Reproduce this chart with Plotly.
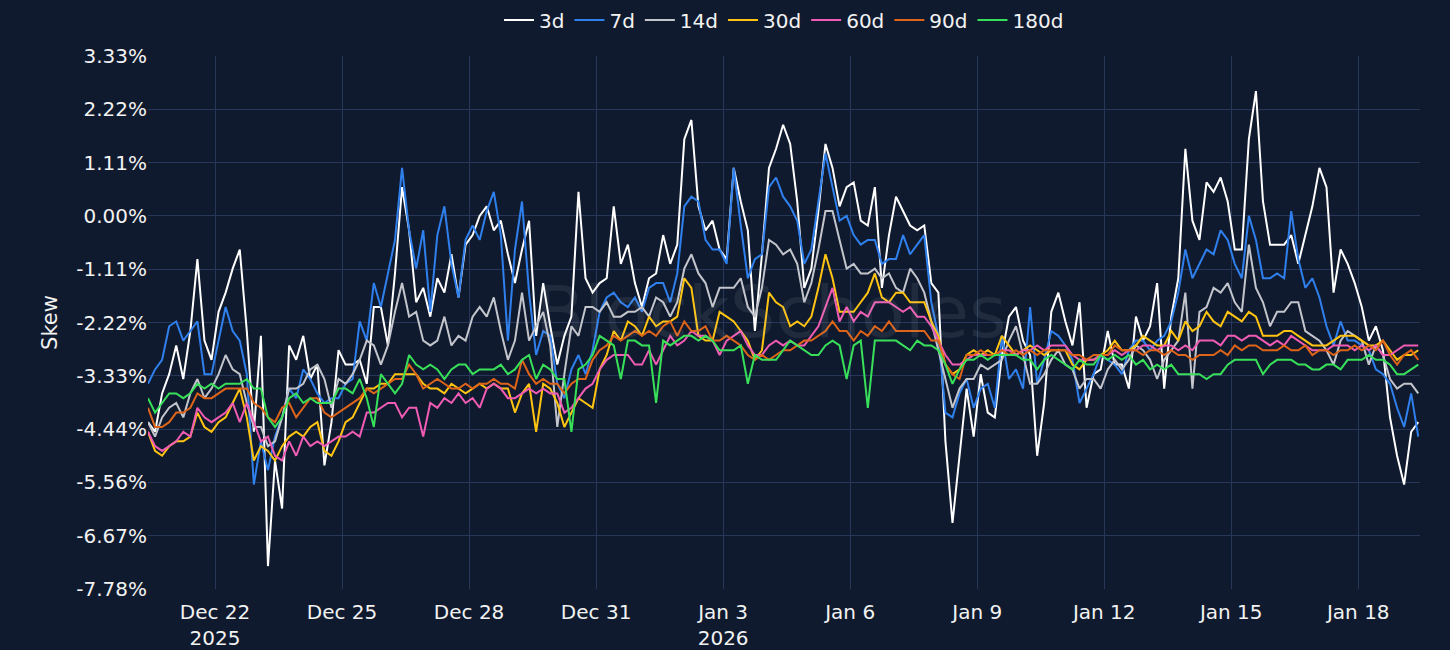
import pandas as pd
import plotly.graph_objects as go

# 4-hourly skew readings (%), Dec 20 10:00 -> Jan 19 10:00
timestamps = pd.date_range("2025-12-20 10:00", periods=181, freq="4h")

skew_3d = [
    -4.3, -4.5, -3.7, -3.3, -2.7, -3.4, -2.4, -0.9, -2.6, -3.0, -2.0, -1.6, -1.1, -0.7, -2.4, -4.5, -2.5, -7.3, -5.1, -6.1, -2.7, -3.0, -2.5, -3.4, -3.1, -5.2,
    -4.3, -2.8, -3.1, -3.1, -3.0, -3.5, -1.9, -1.9, -2.7, -1.2, 0.6, -0.3, -1.8, -1.5, -2.1, -1.3, -1.6, -0.8, -1.7, -0.6, -0.4, 0.0, 0.2, -0.3,
    -0.1, -0.8, -1.4, -0.7, -0.1, -2.5, -1.4, -2.3, -3.1, -2.5, -2.1, 0.5, -1.3, -1.6, -1.4, -1.3, 0.2, -1.0, -0.6, -1.4, -1.9, -1.3, -1.2, -0.4,
    -1.0, -0.6, 1.6, 2.0, 0.2, -0.3, -0.1, -0.7, -0.9, 1.0, 0.3, -0.3, -2.4, -0.8, 1.0, 1.4, 1.9, 1.5, 0.3, -1.5, -1.1, 0.1, 1.5, 1.0, 0.2,
    0.6, 0.7, -0.1, -0.2, 0.6, -1.5, -0.4, 0.4, 0.1, -0.2, -0.3, -0.2, -1.4, -1.6, -4.7, -6.4, -5.0, -3.6, -4.6, -3.3, -4.1, -4.2, -2.9, -2.1,
    -1.9, -2.6, -2.9, -5.0, -3.9, -2.0, -1.6, -2.2, -2.7, -1.8, -4.0, -3.3, -3.2, -2.4, -3.1, -3.1, -3.6, -2.1, -2.6, -2.3, -1.4, -3.6, -2.1, -1.3,
    1.4, -0.1, -0.5, 0.7, 0.5, 0.8, 0.3, -0.7, -0.7, 1.6, 2.6, 0.3, -0.6, -0.6, -0.6, -0.4, -1.0, -0.4, 0.2, 1.0, 0.6, -1.6, -0.7, -1.0,
    -1.4, -1.9, -2.6, -2.3, -2.8, -4.2, -5.0, -5.6, -4.5, -4.3,
]
skew_7d = [
    -3.5, -3.2, -3.0, -2.3, -2.2, -2.6, -2.4, -2.2, -3.3, -3.3, -2.6, -1.9, -2.4, -2.6, -3.3, -5.6, -4.7, -5.3, -4.6, -4.2, -3.6, -3.8, -3.2, -3.4, -3.7, -3.9,
    -3.8, -3.8, -3.5, -3.4, -2.2, -2.6, -1.4, -1.9, -1.2, -0.5, 1.0, -0.3, -1.1, -0.3, -2.0, -0.4, 0.2, -1.0, -1.7, -0.5, -0.2, -0.5, 0.1, 0.5,
    -0.4, -2.6, -0.7, 0.3, -1.6, -2.9, -2.4, -2.5, -3.5, -3.8, -3.2, -2.9, -3.3, -2.8, -2.0, -1.7, -1.6, -1.8, -1.9, -1.7, -2.0, -1.5, -1.4, -1.4,
    -1.8, -1.2, 0.2, 0.4, 0.3, -0.5, -0.7, -0.7, -1.0, 1.0, -0.2, -1.3, -0.9, -0.8, 0.6, 0.8, 0.4, 0.2, -0.1, -1.0, -0.7, 0.3, 1.3, 0.6, -0.1,
    0.0, -0.4, -0.6, -0.5, -0.5, -1.0, -0.9, -0.9, -0.4, -0.8, -0.6, -0.4, -1.8, -2.5, -4.1, -4.2, -3.7, -3.4, -4.0, -3.6, -3.5, -4.0, -2.5, -3.4,
    -3.2, -3.6, -1.9, -3.5, -3.0, -2.4, -2.5, -2.7, -3.0, -3.9, -3.6, -3.3, -2.9, -3.0, -3.1, -3.3, -2.8, -2.6, -2.6, -2.8, -2.6, -2.5, -2.2, -1.6,
    -0.7, -1.3, -1.0, -0.7, -0.8, -0.3, -0.5, -1.0, -1.3, 0.0, -0.5, -1.3, -1.3, -1.2, -1.3, 0.1, -0.9, -1.5, -1.3, -1.7, -2.3, -2.7, -2.2, -2.6,
    -2.6, -2.7, -2.8, -3.2, -3.3, -3.5, -4.0, -4.4, -3.7, -4.6,
]
skew_14d = [
    -4.3, -4.6, -4.2, -4.0, -3.9, -4.2, -3.7, -3.4, -3.8, -3.6, -3.3, -2.9, -3.2, -3.3, -3.9, -4.4, -4.4, -4.8, -4.7, -4.2, -3.6, -3.6, -3.5, -3.2, -3.1, -3.4,
    -4.0, -3.4, -3.5, -3.3, -3.0, -2.6, -2.7, -3.1, -2.7, -2.0, -1.4, -2.1, -2.0, -2.6, -2.7, -2.6, -2.1, -2.7, -2.5, -2.6, -2.1, -1.9, -2.1, -1.7,
    -2.4, -3.0, -2.6, -1.6, -2.6, -2.3, -2.0, -2.7, -4.4, -3.3, -2.3, -2.5, -1.9, -1.9, -2.0, -1.8, -2.1, -2.1, -2.0, -2.0, -1.9, -2.1, -1.7, -1.8,
    -2.1, -1.8, -1.1, -0.8, -1.2, -1.4, -1.9, -1.5, -1.5, -1.5, -1.3, -1.9, -2.1, -1.5, -0.5, -0.6, -0.8, -0.7, -1.0, -1.8, -1.4, -0.7, 0.1, 0.1, -0.5,
    -1.1, -1.0, -1.2, -1.2, -1.1, -1.3, -1.2, -1.5, -1.6, -1.1, -1.3, -1.6, -2.2, -2.8, -3.4, -4.0, -3.6, -3.4, -3.4, -3.1, -3.2, -3.1, -3.0, -2.6,
    -2.3, -2.9, -3.5, -3.5, -3.3, -3.0, -2.8, -3.1, -3.2, -3.6, -3.4, -3.4, -3.6, -3.2, -3.0, -3.2, -3.0, -2.7, -2.8, -3.0, -3.4, -3.0, -2.8, -2.6,
    -1.6, -3.6, -2.0, -1.9, -1.5, -1.6, -1.4, -1.8, -2.0, -0.6, -1.5, -1.8, -2.3, -2.0, -2.0, -1.8, -1.8, -2.4, -2.5, -2.6, -2.8, -3.1, -2.6, -2.4,
    -2.5, -2.6, -3.1, -2.7, -2.9, -3.4, -3.6, -3.5, -3.5, -3.7,
]
skew_30d = [
    -4.5, -4.9, -5.0, -4.8, -4.7, -4.7, -4.6, -4.1, -4.4, -4.5, -4.3, -4.2, -3.9, -3.6, -4.2, -5.1, -4.8, -4.9, -5.1, -4.8, -4.6, -4.5, -4.6, -4.4, -4.3, -4.9,
    -5.0, -4.7, -4.3, -4.2, -3.9, -3.6, -3.6, -3.5, -3.5, -3.3, -3.3, -3.3, -3.3, -3.5, -3.6, -3.6, -3.7, -3.5, -3.6, -3.7, -3.6, -3.5, -3.6, -3.5,
    -3.6, -3.6, -4.1, -3.7, -3.5, -4.5, -3.5, -3.6, -3.9, -4.4, -4.1, -3.8, -3.9, -4.0, -3.2, -2.9, -2.4, -2.6, -2.2, -2.3, -2.5, -2.1, -2.3, -2.2,
    -2.2, -2.1, -1.3, -1.5, -2.5, -2.6, -2.6, -2.0, -2.1, -2.2, -2.4, -2.6, -3.0, -2.8, -1.6, -1.8, -1.9, -2.3, -2.2, -2.3, -2.1, -1.5, -0.8, -1.3, -2.0,
    -2.0, -2.0, -1.8, -1.6, -1.2, -1.7, -1.8, -1.6, -1.6, -1.8, -1.8, -1.8, -2.2, -2.5, -3.1, -3.3, -3.2, -2.9, -2.8, -2.9, -2.8, -2.9, -2.5, -2.7,
    -2.9, -2.8, -2.7, -2.8, -2.9, -2.8, -2.8, -2.8, -3.1, -3.2, -3.0, -3.0, -2.9, -2.8, -2.6, -2.8, -2.8, -2.7, -2.5, -2.6, -2.7, -2.7, -2.4, -2.6,
    -2.2, -2.4, -2.3, -2.0, -2.2, -2.3, -2.0, -2.1, -2.2, -2.0, -2.1, -2.5, -2.5, -2.5, -2.4, -2.4, -2.5, -2.6, -2.7, -2.7, -2.7, -2.6, -2.5, -2.5,
    -2.5, -2.6, -2.7, -2.7, -2.6, -2.8, -3.0, -2.9, -2.9, -2.8,
]
skew_60d = [
    -4.5, -4.8, -4.9, -4.8, -4.7, -4.5, -4.6, -4.0, -4.2, -4.3, -4.2, -4.1, -3.9, -4.3, -3.9, -4.3, -4.7, -4.6, -5.0, -5.1, -4.7, -5.0, -4.6, -4.8, -4.7, -4.8,
    -4.7, -4.6, -4.6, -4.5, -4.6, -4.1, -4.1, -4.0, -3.9, -3.9, -4.2, -4.0, -4.0, -4.6, -3.9, -4.0, -3.8, -3.9, -3.7, -3.9, -3.8, -4.0, -3.6, -3.5,
    -3.6, -3.8, -3.8, -3.7, -3.6, -3.7, -3.6, -3.7, -3.7, -4.1, -4.0, -3.8, -3.6, -3.5, -3.2, -3.0, -2.9, -2.9, -2.9, -3.1, -3.1, -2.8, -3.1, -2.8,
    -2.5, -2.7, -2.6, -2.4, -2.5, -2.5, -2.6, -2.9, -2.6, -2.5, -2.4, -2.7, -2.9, -2.9, -2.7, -2.6, -2.7, -2.6, -2.7, -2.7, -2.5, -2.3, -1.9, -1.5, -2.2,
    -1.9, -2.2, -2.0, -2.1, -1.8, -1.8, -1.8, -1.9, -2.0, -1.9, -2.1, -2.1, -2.3, -2.6, -2.9, -3.1, -3.1, -3.0, -2.9, -2.9, -2.9, -2.9, -2.8, -2.8,
    -2.9, -2.8, -2.8, -2.7, -2.8, -2.7, -2.7, -2.7, -2.9, -3.0, -3.0, -3.0, -2.9, -2.9, -2.8, -2.9, -2.8, -2.8, -2.7, -2.7, -2.8, -2.7, -2.7, -2.8,
    -2.7, -2.8, -2.6, -2.6, -2.6, -2.7, -2.5, -2.5, -2.6, -2.5, -2.5, -2.6, -2.7, -2.6, -2.7, -2.5, -2.6, -2.7, -2.8, -2.8, -2.8, -2.7, -2.7, -2.7,
    -2.8, -2.7, -2.8, -2.7, -2.9, -2.9, -2.8, -2.7, -2.7, -2.7,
]
skew_90d = [
    -4.0, -4.4, -4.4, -4.3, -4.1, -4.1, -4.0, -3.7, -3.8, -3.8, -3.7, -3.6, -3.6, -3.6, -3.6, -3.9, -4.0, -4.2, -4.3, -4.0, -3.9, -4.2, -4.0, -3.8, -3.8, -4.1,
    -4.2, -4.1, -4.0, -3.9, -3.8, -3.6, -3.7, -3.6, -3.5, -3.4, -3.4, -3.1, -3.3, -3.6, -3.5, -3.4, -3.5, -3.6, -3.6, -3.5, -3.6, -3.5, -3.5, -3.4,
    -3.5, -3.5, -3.6, -3.0, -3.3, -3.5, -3.4, -3.5, -3.5, -3.7, -3.5, -3.4, -3.4, -3.0, -2.8, -2.7, -2.5, -2.6, -2.5, -2.4, -2.5, -2.4, -2.5, -2.3,
    -2.2, -2.5, -2.2, -2.4, -2.4, -2.3, -2.6, -2.6, -2.5, -2.6, -2.7, -2.9, -3.0, -2.9, -3.0, -2.9, -2.8, -2.8, -2.7, -2.6, -2.6, -2.5, -2.4, -2.2, -2.4,
    -2.4, -2.6, -2.4, -2.5, -2.3, -2.4, -2.2, -2.4, -2.4, -2.4, -2.4, -2.4, -2.6, -2.6, -3.1, -3.3, -3.4, -2.9, -2.9, -2.8, -2.9, -2.9, -2.8, -2.9,
    -2.8, -2.9, -2.8, -2.9, -2.8, -2.8, -2.8, -2.8, -2.9, -2.9, -3.0, -2.9, -2.9, -2.9, -2.7, -2.8, -2.8, -2.8, -2.9, -2.8, -2.8, -2.9, -2.8, -2.9,
    -2.9, -3.0, -2.9, -2.9, -2.9, -2.8, -2.9, -2.7, -2.8, -2.7, -2.7, -2.8, -2.8, -2.8, -2.7, -2.8, -2.8, -2.7, -2.9, -2.8, -2.8, -2.9, -2.8, -2.8,
    -2.7, -2.8, -2.7, -2.8, -2.6, -2.9, -3.1, -2.9, -2.8, -3.0,
]
skew_180d = [
    -3.8, -4.1, -3.9, -3.7, -3.7, -3.8, -3.7, -3.5, -3.6, -3.5, -3.6, -3.5, -3.5, -3.5, -3.4, -3.6, -3.6, -4.2, -4.4, -4.2, -3.8, -3.7, -3.9, -3.8, -3.9, -3.9,
    -3.9, -3.6, -3.6, -3.7, -3.4, -3.8, -4.4, -3.3, -3.5, -3.7, -3.5, -2.9, -3.1, -3.2, -3.1, -3.2, -3.4, -3.2, -3.1, -3.1, -3.3, -3.2, -3.2, -3.2,
    -3.1, -3.3, -3.2, -3.0, -2.9, -3.4, -3.1, -3.2, -3.4, -3.4, -4.5, -3.2, -3.1, -2.9, -2.5, -2.6, -2.7, -3.4, -2.6, -2.6, -2.7, -2.7, -3.9, -2.6,
    -2.7, -2.6, -2.5, -2.5, -2.6, -2.5, -2.6, -2.8, -2.8, -2.8, -2.7, -3.5, -2.9, -3.0, -3.0, -3.0, -2.8, -2.6, -2.7, -2.8, -2.9, -2.9, -2.7, -2.6, -2.7,
    -3.4, -2.7, -2.6, -4.0, -2.6, -2.6, -2.6, -2.6, -2.7, -2.8, -2.6, -2.7, -2.7, -2.8, -3.1, -3.5, -3.2, -3.0, -3.0, -2.9, -3.0, -2.9, -2.9, -2.9,
    -2.9, -3.0, -3.0, -3.2, -3.0, -2.9, -3.0, -3.1, -3.2, -3.0, -3.1, -3.1, -2.9, -3.0, -2.9, -3.0, -2.9, -3.1, -3.0, -3.2, -3.1, -3.2, -3.1, -3.3,
    -3.3, -3.3, -3.3, -3.4, -3.3, -3.3, -3.1, -3.0, -3.0, -3.0, -3.0, -3.3, -3.1, -3.0, -3.0, -3.0, -3.1, -3.1, -3.2, -3.2, -3.1, -3.1, -3.2, -3.0,
    -3.0, -3.0, -2.9, -3.0, -3.0, -3.1, -3.3, -3.3, -3.2, -3.1,
]

tenors = ['3d', '7d', '14d', '30d', '60d', '90d', '180d']
series = [skew_3d, skew_7d, skew_14d, skew_30d, skew_60d, skew_90d, skew_180d]
colors = ['#ffffff', '#2f80ed', '#c3c5cc', '#ffc412', '#f05cb4', '#dd6418', '#38e05a']

# y ticks sit on ninths of 10%
y_ticks = [k * 10 / 9 for k in range(-7, 4)]
y_labels = [f'{v:.2f}%' for v in y_ticks]

bg = '#101a2e'
grid = '#26375a'

fig = go.Figure()
for name, vals, col in zip(tenors, series, colors):
    fig.add_trace(go.Scatter(x=timestamps, y=vals, name=name, mode='lines',
                             line=dict(color=col, width=2)))

fig.add_annotation(text='BlockScholes', x=0.49, y=0.52, xref='paper', yref='paper',
                   showarrow=False, font=dict(size=72, color='rgba(190,195,210,0.10)'))

fig.update_layout(
    width=1450, height=650,
    paper_bgcolor=bg, plot_bgcolor=bg,
    font=dict(family='DejaVu Sans', size=20, color='#f2f2f2'),
    margin=dict(l=148, r=30, t=56, b=61),
    legend=dict(orientation='h', x=0.5, xanchor='center', y=1 - 20 / 650, yanchor='middle',
                yref='container', font=dict(size=20), bgcolor='rgba(0,0,0,0)'),
    xaxis=dict(range=['2025-12-20 10:00', '2026-01-19 11:00'], dtick=3 * 86400000,
               tick0='2025-12-22', gridcolor=grid, showline=False, zeroline=False,
               ticks='outside', ticklen=5, tickcolor=bg, automargin=False),
    yaxis=dict(range=[-70 / 9, 30 / 9], tickvals=y_ticks, ticktext=y_labels,
               gridcolor=grid, zeroline=False, showline=False, automargin=False,
               title=dict(text='Skew', font=dict(size=21), standoff=12)),
)

fig.write_html('out.html', config={'displayModeBar': False},
               post_script="document.body.style.margin='0';")
